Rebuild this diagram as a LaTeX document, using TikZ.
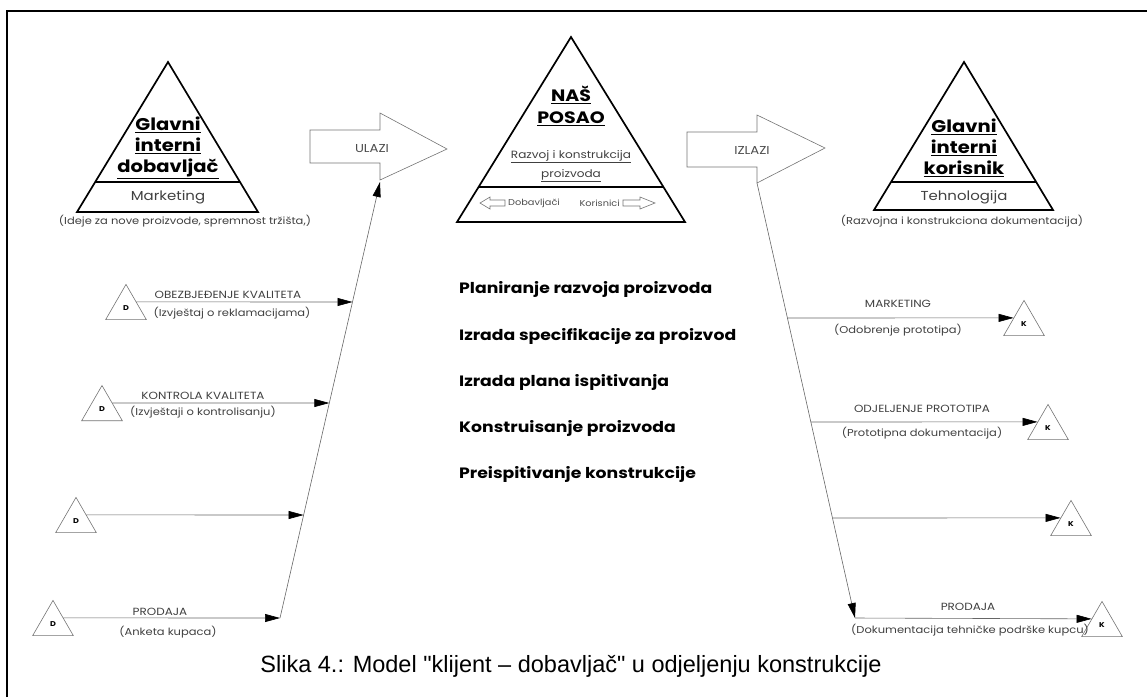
\documentclass[tikz,border=0pt]{standalone}
\usepackage{fontspec}
\setmainfont[FakeStretch=1.15]{Poppins}
\newfontfamily\capfont{Liberation Sans}
\usetikzlibrary{arrows.meta,shapes.geometric,calc}
\begin{document}
\begin{tikzpicture}[x=1pt,y=-1pt,
  bigtri/.style={line width=1.7pt, line join=miter},
  hollow/.style={draw=black!55, line width=0.6pt, line join=miter},
  flow/.style={draw=black!60, line width=0.6pt, -{Triangle[length=15pt,width=8pt,color=black]}},
  tri/.style={regular polygon, regular polygon sides=3, minimum size=47pt, inner sep=0pt, draw=black!55, line width=0.6pt, font=\fontsize{7}{8}\selectfont\bfseries},
  lab/.style={font=\fontsize{10}{11}\selectfont, text=black!75, inner sep=1pt},
  caps/.style={font=\fontsize{10.4}{12}\selectfont, text=black!75, inner sep=1pt},
  head/.style={font=\fontsize{17}{21}\selectfont\bfseries, align=center, inner sep=0pt},
  sub/.style={font=\fontsize{13}{14}\selectfont, text=black!75, inner sep=0pt},
  task/.style={font=\fontsize{15}{17}\selectfont\bfseries, anchor=west, inner sep=0pt},
  arrlab/.style={font=\fontsize{11.5}{13}\selectfont, text=black!70, inner sep=0pt}
]
\useasboundingbox (0,0) rectangle (1147,697);
\draw[line width=2pt] (7,697) -- (7,11) -- (1147,11);

% ---------- left pyramid
\coordinate (la) at (168,62);
\coordinate (lbl) at (77,212);
\coordinate (lbr) at (258,212);
\draw[bigtri] (la) -- (lbl) -- (lbr) -- cycle;
\draw[bigtri] ($(la)!0.8!(lbl)$) -- ($(la)!0.8!(lbr)$);
\node[head] (lhead) at (168,148) {\underline{Glavni}\\\underline{interni}\\\underline{dobavljač}};
\node[sub] (lsub) at (168,197) {Marketing};
\node[lab] (lcap) at (185,221) {(Ideje za nove proizvode, spremnost tržišta,)};

% ---------- middle pyramid
\coordinate (ma) at (571,37);
\coordinate (mbl) at (457,222);
\coordinate (mbr) at (685,222);
\draw[bigtri] (ma) -- (mbl) -- (mbr) -- cycle;
\draw[bigtri] ($(ma)!0.81!(mbl)$) -- ($(ma)!0.81!(mbr)$);
\node[font=\fontsize{16.5}{22}\selectfont\bfseries, align=center, inner sep=0pt] (mhead) at (571,106) {\underline{NAŠ}\\\underline{POSAO}};
\node[font=\fontsize{10.5}{19}\selectfont, text=black!75, align=center, inner sep=0pt] (msub) at (571,166) {\underline{Razvoj i konstrukcija}\\\underline{proizvoda}};
\draw[hollow] (480,203) -- (490,197) -- (490,200) -- (505,200) -- (505,206) -- (490,206) -- (490,209) -- cycle;
\node[font=\fontsize{8.5}{10}\selectfont, text=black!70, anchor=west, inner sep=0pt] (mdob) at (508,203) {Dobavljači};
\node[font=\fontsize{8.5}{10}\selectfont, text=black!70, anchor=east, inner sep=0pt] (mkor) at (620,203) {Korisnici};
\draw[hollow] (623,200) -- (640,200) -- (640,197) -- (655,203) -- (640,209) -- (640,206) -- (623,206) -- cycle;

% ---------- right pyramid
\coordinate (ra) at (964,62);
\coordinate (rbl) at (874,210);
\coordinate (rbr) at (1053,210);
\draw[bigtri] (ra) -- (rbl) -- (rbr) -- cycle;
\draw[bigtri] ($(ra)!0.81!(rbl)$) -- ($(ra)!0.81!(rbr)$);
\node[head] (rhead) at (964,148) {\underline{Glavni}\\\underline{interni}\\\underline{korisnik}};
\node[sub] (rsub) at (964,197) {Tehnologija};
\node[lab] (rcap) at (962,221) {(Razvojna i konstrukciona dokumentacija)};

% ---------- block arrows
\draw[hollow] (310,130) -- (380,130) -- (380,113) -- (447,149) -- (380,180) -- (380,163) -- (310,163) -- cycle;
\node[arrlab] (ulazi) at (372,149) {ULAZI};
\coordinate (uin) at (380,182);
\draw[hollow] (687,132) -- (757,132) -- (757,115) -- (825,148) -- (757,183) -- (757,167) -- (687,167) -- cycle;
\node[arrlab] (izlazi) at (752,150) {IZLAZI};
\coordinate (iout) at (757,183);

% ---------- middle task list
\node[task] (t1) at (459,289) {Planiranje razvoja proizvoda};
\node[task] (t2) at (459,336) {Izrada specifikacije za proizvod};
\node[task] (t3) at (459,382) {Izrada plana ispitivanja};
\node[task] (t4) at (459,428) {Konstruisanje proizvoda};
\node[task] (t5) at (459,474) {Preispitivanje konstrukcije};

% ---------- inputs (left)
\coordinate (lb) at (280,618);
\coordinate (p1) at (352.5,302);
\coordinate (p2) at (329.3,403);
\coordinate (p3) at (303.6,515);
\draw[flow] (lb) -- (uin);
\node[tri] (d1) at (126,307.9) {\raisebox{-4pt}{D}};
\node[tri] (d2) at (102,409) {\raisebox{-4pt}{D}};
\node[tri] (d3) at (76,520.9) {\raisebox{-4pt}{D}};
\node[tri] (d4) at (53,623.9) {\raisebox{-4pt}{D}};
\draw[flow] (d1.side 3) -- (p1);
\draw[flow] (d2.side 3) -- (p2);
\draw[flow] (d3.side 3) -- (p3);
\draw[flow] (d4.side 3) -- (lb);
\node[caps] (l1a) at (228,295) {OBEZBJEĐENJE KVALITETA};
\node[lab] (l1b) at (232,313) {(Izvještaj o reklamacijama)};
\node[caps] (l2a) at (203,396) {KONTROLA KVALITETA};
\node[lab] (l2b) at (203,412) {(Izvještaji o kontrolisanju)};
\node[caps] (l4a) at (160,612) {PRODAJA};
\node[lab] (l4b) at (168,632) {(Anketa kupaca)};

% ---------- outputs (right)
\coordinate (rb) at (855,618);
\coordinate (q1) at (787.4,318);
\coordinate (q2) at (810.8,422);
\coordinate (q3) at (832.5,518);
\draw[flow] (iout) -- (rb);
\node[tri] (k1) at (1024,323.9) {\raisebox{-4pt}{K}};
\node[tri] (k2) at (1048,427.9) {\raisebox{-4pt}{K}};
\node[tri] (k3) at (1071,523.9) {\raisebox{-4pt}{K}};
\node[tri] (k4) at (1102,624.9) {\raisebox{-4pt}{K}};
\draw[flow] (q1) -- (k1.side 1);
\draw[flow] (q2) -- (k2.side 1);
\draw[flow] (q3) -- (k3.side 1);
\draw[flow] (rb) -- (k4.side 1);
\node[caps] (r1a) at (898,304) {MARKETING};
\node[lab] (r1b) at (898,330) {(Odobrenje prototipa)};
\node[caps] (r2a) at (922,409) {ODJELJENJE PROTOTIPA};
\node[lab] (r2b) at (922,433) {(Prototipna dokumentacija)};
\node[caps] (r4a) at (968,607) {PRODAJA};
\node[lab] (r4b) at (970,630) {(Dokumentacija tehničke podrške kupcu)};

% ---------- caption
\node[font=\capfont\fontsize{23.5}{26}\selectfont, inner sep=0pt] (caption) at (571,666) {Slika 4.: Model "klijent – dobavljač" u odjeljenju konstrukcije};
\end{tikzpicture}
\end{document}
